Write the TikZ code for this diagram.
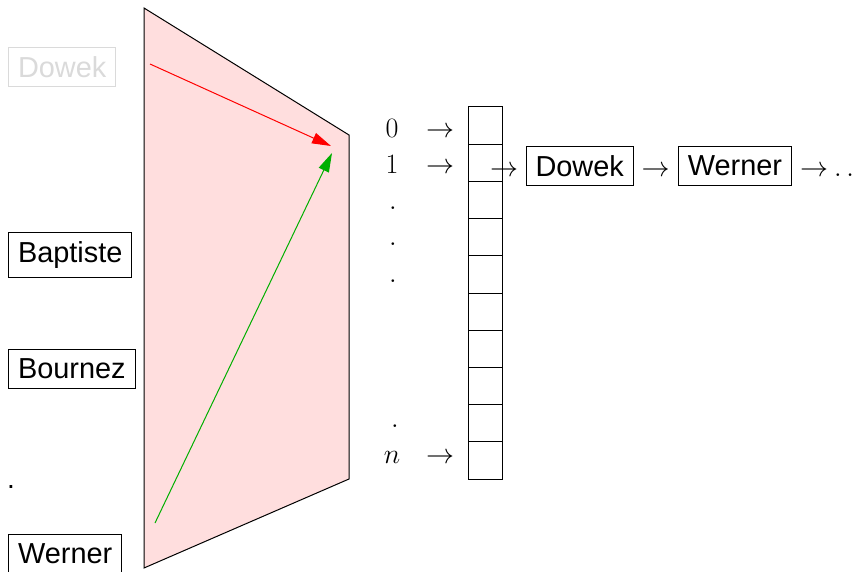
\RequirePackage{fix-cm}
\documentclass[tikz,border=0pt]{standalone}
\usepackage{fontspec}
\setsansfont{Liberation Sans}
\usetikzlibrary{arrows.meta}
\definecolor{pinkfill}{RGB}{255,222,222}
\definecolor{arrgreen}{RGB}{0,175,0}
\definecolor{ghost}{RGB}{218,218,218}
\tikzset{
  big/.style={font=\fontsize{28}{34}\selectfont},
  namebox/.style={draw, line width=0.9pt, inner sep=9.3pt, font=\fontsize{28.9}{34}\selectfont\sffamily},
  lbl/.style={big, inner sep=0pt, anchor=base},
  cell/.style={draw, line width=1pt},
  hashline/.style={line width=1pt, -{Triangle[length=19pt,width=11pt]}},
}
\begin{document}
\begin{tikzpicture}[x=1pt,y=-1pt]
\useasboundingbox (0,0) rectangle (856,572);
% trapezoid (hash function)
\coordinate (tl) at (144,8);
\coordinate (tr) at (349,135);
\coordinate (br) at (349,479);
\coordinate (bl) at (144,568);
\filldraw[fill=pinkfill, draw=black, line width=1pt] (tl) -- (tr) -- (br) -- (bl) -- cycle;
% keys
\node[namebox, draw=ghost, text=ghost, anchor=west] (kdowek) at (8.3,67) {Dowek};
\node[namebox, anchor=west] (kbaptiste) at (8.3,255) {Baptiste};
\node[namebox, anchor=west] (kbournez) at (8.3,369) {Bournez};
\node[lbl, font=\fontsize{28}{34}\selectfont\sffamily] (kdot) at (11,488) {.};
\node[namebox, anchor=west] (kwerner) at (8.3,554) {Werner};
% arrows inside
\coordinate (rs) at (150,64);
\coordinate (re) at (331,146);
\coordinate (gs) at (155,523);
\coordinate (ge) at (332,153);
\draw[hashline, red] (rs) -- (re);
\draw[hashline, arrgreen] (gs) -- (ge);
% table cells
\foreach \i in {0,...,9}{
  \draw[cell] (468,{107+37.2*\i}) rectangle (502.5,{107+37.2*(\i+1)});
}
% index labels
\node[lbl] (i0) at (392,137.7) {$0$};
\node[lbl] (a0) at (440,137.7) {$\rightarrow$};
\node[lbl] (i1) at (392,174) {$1$};
\node[lbl] (a1) at (440,174) {$\rightarrow$};
\node[lbl] (d1) at (393,209.5) {$.$};
\node[lbl] (d2) at (393,245.5) {$.$};
\node[lbl] (d3) at (393,282) {$.$};
\node[lbl] (d4) at (395,427) {$.$};
\node[lbl] (in) at (392,463) {$n$};
\node[lbl] (an) at (440,463) {$\rightarrow$};
% chain
\node[lbl] (c0) at (504,176.7) {$\rightarrow$};
\node[namebox] (cdowek) at (579.7,166) {Dowek};
\node[lbl] (c1) at (655.5,176.7) {$\rightarrow$};
\node[namebox] (cwerner) at (735,166) {Werner};
\node[lbl] (c2) at (814,176.7) {$\rightarrow$};
\node[lbl, anchor=base west] (c3) at (834,176.7) {$\ldots$};
\end{tikzpicture}
\end{document}
